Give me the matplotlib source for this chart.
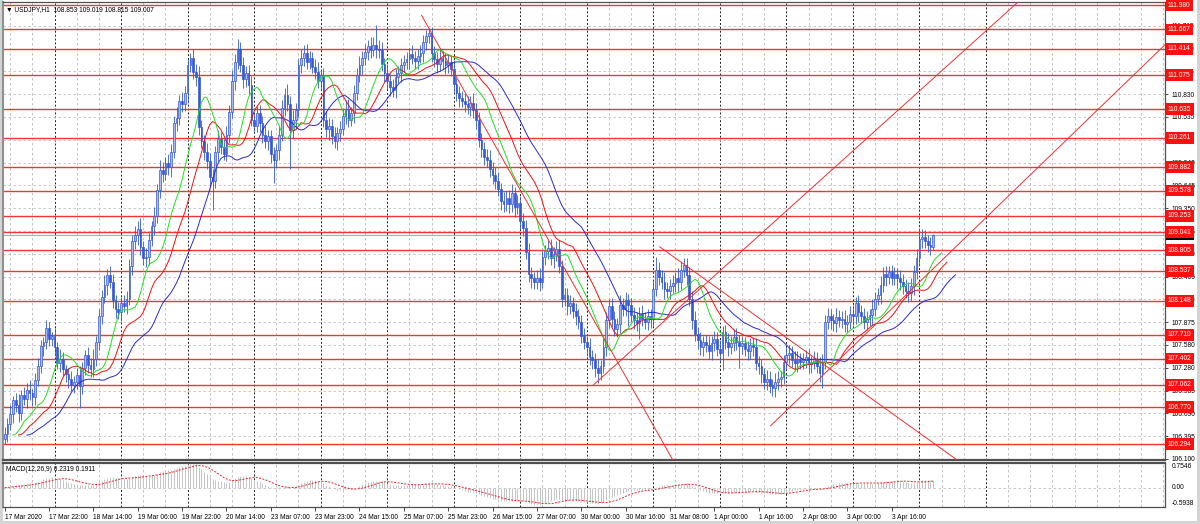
import numpy as np
import pandas as pd
import matplotlib
matplotlib.use("Agg")
import matplotlib.pyplot as plt
from matplotlib.patches import Rectangle

plt.rcParams['font.family'] = ['Liberation Sans', 'DejaVu Sans']

# ---- data (USDJPY H1) ----
symbol = "USDJPY,H1"
last_ohlc = "108.853 109.019 108.815 109.007"
first_open = 106.36
closes = [
    106.42, 106.55, 106.68, 106.86, 106.80, 106.70, 106.93, 106.88, 107.00, 106.95, 106.90, 107.12, 107.30, 107.56, 107.62, 107.80,
    107.66, 107.70, 107.55, 107.34, 107.40, 107.26, 107.20, 107.14, 107.06, 107.10, 107.19, 107.04, 107.28, 107.45, 107.32, 107.26,
    107.40, 107.62, 107.95, 108.20, 108.35, 108.48, 108.40, 108.16, 108.05, 108.00, 108.12, 108.08, 108.18, 108.60, 108.92, 109.00,
    109.08, 108.85, 108.70, 108.72, 108.94, 109.12, 109.25, 109.58, 109.85, 109.80, 109.93, 109.88, 110.08, 110.45, 110.52, 110.74,
    110.70, 110.84, 111.20, 111.30, 111.12, 111.05, 110.40, 110.22, 110.08, 109.96, 109.75, 109.70, 110.08, 110.25, 110.15, 110.05,
    110.30, 110.60, 111.00, 111.25, 111.42, 111.20, 111.02, 111.10, 110.95, 110.50, 110.42, 110.58, 110.45, 110.30, 110.22, 110.28,
    110.05, 109.98, 110.10, 110.30, 110.65, 110.82, 110.70, 110.36, 110.50, 110.62, 111.20, 111.30, 111.36, 111.25, 111.30, 111.18,
    111.12, 111.00, 111.08, 110.50, 110.38, 110.42, 110.28, 110.22, 110.32, 110.38, 110.55, 110.64, 110.50, 110.58, 110.85, 111.08,
    111.20, 111.30, 111.38, 111.45, 111.40, 111.47, 111.42, 111.40, 111.22, 111.10, 111.00, 110.92, 110.88, 111.05, 111.10, 111.20,
    111.25, 111.28, 111.35, 111.30, 111.26, 111.32, 111.36, 111.50, 111.58, 111.62, 111.36, 111.28, 111.22, 111.30, 111.26, 111.20,
    111.24, 111.15, 110.96, 110.84, 110.78, 110.74, 110.70, 110.66, 110.72, 110.62, 110.50, 110.24, 110.12, 110.02, 109.98, 109.86,
    109.78, 109.70, 109.60, 109.45, 109.40, 109.48, 109.40, 109.55, 109.36, 109.42, 109.18, 109.10, 108.78, 108.50, 108.44, 108.40,
    108.45, 108.40, 108.72, 108.80, 108.84, 108.70, 108.76, 108.82, 108.60, 108.18, 108.22, 108.08, 108.12, 108.02, 107.95, 107.88,
    107.70, 107.62, 107.55, 107.42, 107.38, 107.28, 107.22, 107.30, 107.55, 107.90, 108.08, 107.92, 107.78, 107.85, 108.10, 108.05,
    108.16, 108.10, 107.96, 107.90, 107.86, 107.98, 107.92, 107.88, 107.95, 107.92, 108.30, 108.55, 108.46, 108.40, 108.30, 108.28,
    108.34, 108.38, 108.45, 108.40, 108.55, 108.62, 108.48, 108.18, 107.90, 107.72, 107.64, 107.55, 107.62, 107.58, 107.50, 107.60,
    107.66, 107.52, 107.48, 107.74, 107.62, 107.55, 107.60, 107.68, 107.62, 107.56, 107.60, 107.52, 107.50, 107.58, 107.55, 107.34,
    107.30, 107.20, 107.10, 107.14, 107.05, 107.02, 107.10, 107.14, 107.16, 107.36, 107.45, 107.48, 107.38, 107.34, 107.40, 107.36,
    107.38, 107.42, 107.33, 107.36, 107.40, 107.30, 107.22, 107.36, 107.88, 107.95, 107.90, 107.86, 107.94, 107.90, 107.92, 107.85,
    107.88, 107.98, 107.95, 108.12, 108.00, 107.95, 107.88, 107.92, 107.96, 108.05, 108.18, 108.22, 108.36, 108.50, 108.46, 108.52,
    108.45, 108.50, 108.44, 108.40, 108.34, 108.28, 108.25, 108.34, 108.52, 108.70, 108.95, 108.98, 108.92, 108.88, 108.853, 109.007,
]
# upper / lower shadows, in 0.01 JPY
wick_up = [
    10, 8, 12, 6, 9, 14, 7, 10, 8, 12, 6, 9, 11, 8, 6, 10,
    8, 5, 10, 7, 12, 9, 6, 8, 10, 7, 9, 12, 8, 6, 10, 9,
    12, 8, 10, 9, 14, 8, 12, 10, 7, 9, 8, 11, 10, 9, 8, 12,
    10, 14, 8, 12, 9, 7, 11, 9, 13, 10, 8, 12, 10, 9, 14, 8,
    12, 10, 9, 6, 12, 10, 14, 9, 8, 12, 10, 11, 8, 12, 9, 10,
    12, 9, 14, 10, 12, 8, 11, 9, 10, 12, 8, 9, 11, 10, 12, 9,
    9, 10, 8, 12, 10, 9, 14, 10, 12, 9, 8, 11, 10, 12, 9, 8,
    10, 12, 8, 9, 11, 10, 9, 12, 8, 10, 9, 11, 12, 8, 10, 9,
    12, 9, 10, 8, 12, 10, 25, 11, 10, 8, 12, 9, 10, 11, 9, 10,
    9, 10, 8, 12, 9, 10, 11, 9, 8, 6, 8, 9, 10, 12, 9, 10,
    10, 9, 12, 8, 10, 9, 11, 10, 8, 12, 9, 10, 8, 9, 10, 12,
    9, 10, 12, 8, 11, 9, 10, 12, 8, 10, 9, 11, 10, 12, 9, 8,
    10, 12, 9, 8, 10, 11, 9, 10, 12, 8, 10, 9, 11, 8, 10, 9,
    9, 10, 8, 12, 9, 10, 11, 8, 12, 10, 9, 11, 10, 8, 12, 9,
    10, 8, 9, 11, 10, 9, 12, 8, 10, 9, 11, 17, 10, 9, 12, 10,
    9, 10, 8, 12, 10, 8, 9, 11, 10, 12, 9, 10, 8, 9, 11, 10,
    10, 9, 12, 8, 10, 11, 9, 10, 12, 9, 10, 8, 11, 9, 10, 12,
    9, 10, 8, 11, 10, 9, 12, 10, 8, 9, 11, 10, 9, 12, 10, 8,
    10, 9, 11, 8, 10, 9, 12, 10, 9, 11, 10, 8, 12, 9, 10, 11,
    9, 10, 12, 8, 10, 9, 11, 10, 8, 12, 9, 10, 11, 9, 10, 8,
    10, 9, 8, 11, 10, 9, 12, 10, 9, 12, 14, 10, 9, 8, 10, 1.2,
]
wick_dn = [
    6, 10, 8, 11, 9, 12, 10, 8, 12, 9, 11, 10, 8, 9, 12, 10,
    9, 10, 12, 8, 11, 9, 10, 12, 8, 10, 9, 28, 10, 9, 11, 10,
    10, 9, 11, 10, 8, 12, 9, 10, 12, 9, 11, 8, 10, 9, 12, 10,
    12, 10, 9, 11, 10, 8, 12, 9, 10, 11, 9, 10, 12, 8, 10, 9,
    10, 9, 12, 8, 10, 12, 10, 9, 11, 10, 12, 37, 9, 12, 10, 8,
    9, 10, 8, 12, 10, 9, 11, 10, 12, 9, 10, 8, 11, 10, 9, 12,
    12, 30, 9, 12, 8, 10, 9, 50, 10, 12, 9, 10, 11, 9, 10, 8,
    10, 9, 12, 10, 11, 14, 10, 9, 12, 10, 8, 11, 10, 9, 12, 10,
    10, 12, 9, 11, 10, 8, 12, 10, 9, 11, 10, 12, 9, 10, 8, 11,
    9, 10, 12, 8, 11, 10, 9, 12, 10, 9, 11, 10, 12, 9, 10, 11,
    10, 9, 11, 10, 12, 8, 10, 9, 11, 10, 12, 9, 10, 11, 9, 10,
    11, 10, 9, 12, 10, 9, 11, 10, 12, 9, 10, 11, 9, 10, 12, 10,
    10, 12, 9, 10, 11, 9, 12, 10, 9, 11, 10, 12, 10, 9, 11, 10,
    10, 9, 12, 10, 11, 12, 14, 10, 9, 12, 10, 11, 9, 10, 12, 10,
    10, 28, 9, 11, 10, 20, 9, 10, 11, 12, 10, 9, 11, 10, 12, 9,
    10, 9, 11, 12, 10, 9, 12, 10, 11, 9, 12, 10, 11, 9, 10, 12,
    10, 9, 11, 23, 10, 12, 9, 10, 11, 28, 10, 9, 12, 10, 11, 9,
    10, 12, 9, 11, 10, 10, 12, 10, 11, 9, 10, 12, 9, 10, 11, 10,
    9, 10, 12, 11, 10, 9, 12, 20, 10, 9, 11, 10, 12, 9, 10, 11,
    10, 9, 11, 10, 12, 9, 10, 11, 9, 12, 10, 9, 11, 10, 12, 9,
    9, 10, 12, 11, 10, 9, 12, 10, 11, 9, 10, 12, 9, 10, 11, 3.8,
]
levels = [111.980, 111.667, 111.414, 111.075, 110.635, 110.261, 109.882, 109.578, 109.253,
          109.041, 108.805, 108.537, 108.148, 107.710, 107.402, 107.062, 106.770, 106.294]
price_ticks = [111.715, 111.420, 111.125, 110.830, 110.535, 110.240, 109.940, 109.645, 109.350, 109.055,
               108.760, 108.465, 108.170, 107.875, 107.580, 107.280, 106.985, 106.690, 106.395, 106.100]
time_labels = ["17 Mar 2020", "17 Mar 22:00", "18 Mar 14:00", "19 Mar 06:00", "19 Mar 22:00",
               "20 Mar 14:00", "23 Mar 07:00", "23 Mar 23:00", "24 Mar 15:00", "25 Mar 07:00",
               "25 Mar 23:00", "26 Mar 15:00", "27 Mar 07:00", "30 Mar 00:00", "30 Mar 16:00",
               "31 Mar 08:00", "1 Apr 00:00", "1 Apr 16:00", "2 Apr 08:00", "3 Apr 00:00", "3 Apr 16:00"]
# trend lines: (bar, price) pairs
trend_lines = [((150.4, 111.85), (241.0, 106.09)),
               ((212.4, 107.06), (280.3, 109.26)),
               ((236.3, 108.85), (342.7, 106.11)),
               ((276.3, 106.53), (419.2, 111.49))]
bid = 109.007
macd_range = (-0.5938, 0.7546)
macd_header = "MACD(12,26,9) 0.2319 0.1911"

# ---- derived series ----
c = np.array(closes)
o = np.r_[first_open, c[:-1]]
h = np.maximum(o, c) + np.array(wick_up) / 100
l = np.minimum(o, c) - np.array(wick_dn) / 100
n = len(c)
idx = np.arange(n)

# Alligator (SMMA of median price, shifted)
med = pd.Series((h + l) / 2)
def smma(s, p):
    return s.ewm(alpha=1 / p, adjust=False).mean()
jaw, teeth, lips = smma(med, 13), smma(med, 8), smma(med, 5)

cs = pd.Series(c)
macd = cs.ewm(span=12, adjust=False).mean() - cs.ewm(span=26, adjust=False).mean()
signal = macd.rolling(9, min_periods=1).mean()

# ---- figure layout (pixel boxes) ----
W, H = 1200, 524
fig = plt.figure(figsize=(12, 5.24), dpi=100, facecolor='#d4d4d4')
def box(x0, y0, x1, y1):
    return [x0 / W, 1 - y1 / H, (x1 - x0) / W, (y1 - y0) / H]
fig.patches.append(Rectangle((3 / W, 1 - 521 / H), 1194 / W, 521 / H, transform=fig.transFigure,
                             fc='white', ec='none', zorder=-5))
ax = fig.add_axes(box(3, 2, 1165, 460))
ax2 = fig.add_axes(box(3, 463, 1165, 507), sharex=ax)
fs = 4.8

ax.set_xlim(-0.6, 418.6)
ax.set_ylim(106.087, 112.023)

# grid
day_sep = np.arange(18, 360, 24)
for a in (ax, ax2):
    for x in np.arange(2, 419, 8):
        if x not in day_sep:
            a.axvline(x, color='#b8b8b8', lw=0.6, ls=(0, (3, 3)), zorder=0)
    for x in day_sep:
        a.axvline(x, color='#202020', lw=0.7, ls=(0, (2, 2)), zorder=0)
for y in price_ticks:
    ax.axhline(y, color='#c0c0c0', lw=0.6, ls=(0, (3, 3)), zorder=0)
ax2.axhline(0, color='#c0c0c0', lw=0.6, ls=(0, (3, 3)), zorder=0)

# level lines
for lv in levels:
    ax.axhline(lv, color='#f03535', lw=1.0, zorder=1)
ax.axhline(bid, color='#b0b0b0', lw=0.8, zorder=1)

# candles
blue = '#3558d4'
ax.vlines(idx, l, h, color=blue, lw=0.6, zorder=3)
up = c >= o
body_h = np.maximum(np.abs(c - o), 0.004)
ax.bar(idx[up], body_h[up], bottom=np.minimum(o, c)[up], width=0.62,
       color='#a9baf2', edgecolor=blue, linewidth=0.5, zorder=4)
ax.bar(idx[~up], body_h[~up], bottom=np.minimum(o, c)[~up], width=0.62,
       color=blue, edgecolor=blue, linewidth=0.5, zorder=4)

# alligator lines
ax.plot(idx + 8, jaw, color='#2a2ad0', lw=0.7, zorder=5)
ax.plot(idx + 5, teeth, color='#f01010', lw=0.7, zorder=5)
ax.plot(idx + 3, lips, color='#20e020', lw=0.7, zorder=5)

# trend lines (extended, clipped by axes)
for (x0, y0), (x1, y1) in trend_lines:
    k = (y1 - y0) / (x1 - x0)
    xe = 430
    ax.plot([x0, xe], [y0, y0 + k * (xe - x0)], color='#f03030', lw=0.7, zorder=6)

# header
ax.text(0.003, 0.992, "\u25bc " + symbol + "  " + last_ohlc,
        transform=ax.transAxes, fontsize=fs, va='top', ha='left', color='black', zorder=10)

# right price axis
ax.yaxis.tick_right()
ax.set_yticks(price_ticks)
ax.set_yticklabels([f"{t:.3f}" for t in price_ticks])
ax.tick_params(axis='y', length=2, width=0.5, pad=3, labelsize=fs, colors='black')
ax.tick_params(axis='x', bottom=False, labelbottom=False)
ytr = ax.get_yaxis_transform()
ax.text(1.0026, bid, f"{bid:.3f}", transform=ytr, fontsize=fs, color='white', va='center', ha='left',
        bbox=dict(boxstyle='square,pad=0.3', fc='black', ec='none'), clip_on=False, zorder=8)
for lv in levels:
    ax.text(1.0026, lv, f"{lv:.3f}", transform=ytr, fontsize=fs, color='white', va='center', ha='left',
            bbox=dict(boxstyle='square,pad=0.35', fc='#ff1010', ec='none'), clip_on=False, zorder=9)

# MACD panel
ax2.vlines(idx, 0, macd, color='#c4c4c4', lw=0.7, zorder=2)
ax2.plot(idx, signal, color='#f02020', lw=0.7, ls=(0, (2, 1.5)), zorder=3)
ax2.set_ylim(*macd_range)
ax2.set_yticks([])
ax2.text(0.003, 0.93, macd_header, transform=ax2.transAxes, fontsize=fs, va='top', ha='left')
y2tr = ax2.get_yaxis_transform()
ax2.text(1.006, macd_range[1], f"{macd_range[1]:.4f}", transform=y2tr, fontsize=fs, va='top', ha='left', clip_on=False)
ax2.text(1.006, 0, "0.00", transform=y2tr, fontsize=fs, va='center', ha='left', clip_on=False)
ax2.text(1.006, macd_range[0], f"{macd_range[0]:.4f}", transform=y2tr, fontsize=fs, va='bottom', ha='left', clip_on=False)
ax2.set_xticks(np.arange(len(time_labels)) * 16)
ax2.set_xticklabels(time_labels)
ax2.tick_params(axis='x', length=3, width=0.5, pad=2, labelsize=fs)
for t in ax2.get_xticklabels():
    t.set_ha('left')

for a in (ax, ax2):
    for s in a.spines.values():
        s.set_color('#505050')
        s.set_linewidth(0.9)
    a.spines['left'].set_color('#909090')
    a.spines['left'].set_linewidth(1.5)
ax.spines['bottom'].set_linewidth(1.6)
ax2.spines['top'].set_linewidth(1.6)

fig.savefig("out.png", dpi=100, facecolor=fig.get_facecolor())
